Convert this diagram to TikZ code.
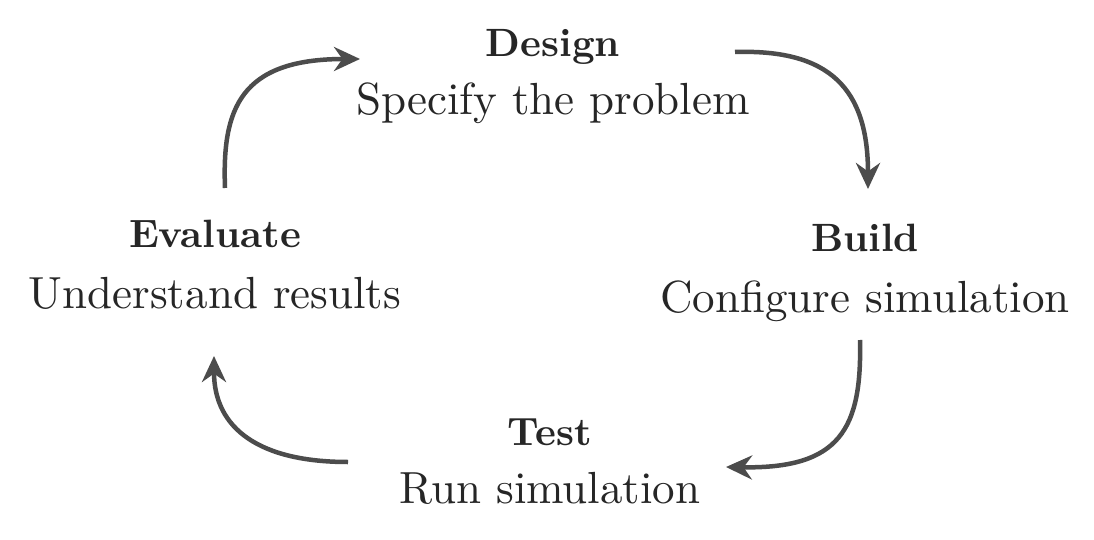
\documentclass[tikz,border=0pt]{standalone}
\usepackage{fontspec}
\setmainfont{lmroman10-regular.otf}[BoldFont=lmroman10-bold.otf]
\usetikzlibrary{arrows.meta}
\begin{document}
\begin{tikzpicture}[x=1pt,y=1pt,
  ttl/.style={anchor=base,text=black!85,font=\fontsize{39.5}{48}\selectfont\bfseries},
  sub/.style={anchor=base,text=black!85,font=\fontsize{45}{54}\selectfont},
  cyc/.style={line width=4.5pt,draw=black!70,-{Stealth[length=26pt,width=24pt]}}]
\fill[white] (0,0) rectangle (1094,539);
\useasboundingbox (0,0) rectangle (1094,539);
\node[ttl] (design) at (553,482) {Design};
\node[sub] (designs) at (553,424) {Specify the problem};
\node[ttl] (build) at (865,288) {Build};
\node[sub] (builds) at (865,227) {Configure simulation};
\node[ttl] (test) at (550,94) {Test};
\node[sub] (tests) at (550,36) {Run simulation};
\node[ttl] (eval) at (215,292) {Evaluate};
\node[sub] (evals) at (215,231) {Understand results};
\coordinate (a1s) at (225,351); \coordinate (a1e) at (360,480);
\coordinate (a2s) at (735,487); \coordinate (a2e) at (868,350);
\coordinate (a3s) at (860,199); \coordinate (a3e) at (726,72);
\coordinate (a4s) at (348,77); \coordinate (a4e) at (214,183);
\draw[cyc] (a1s) .. controls (222,430) and (240,480) .. (a1e);
\draw[cyc] (a2s) .. controls (830,490) and (868,450) .. (a2e);
\draw[cyc] (a3s) .. controls (862,110) and (840,70) .. (a3e);
\draw[cyc] (a4s) .. controls (260,77) and (214,110) .. (a4e);
\end{tikzpicture}
\end{document}
